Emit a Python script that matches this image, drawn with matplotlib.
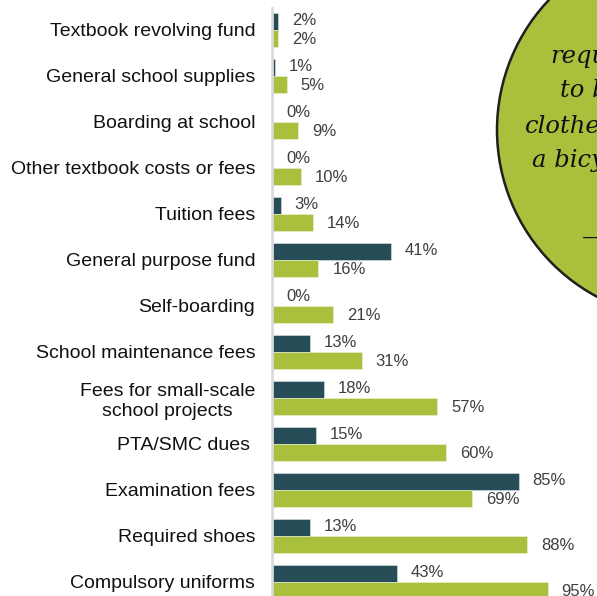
import matplotlib.pyplot as plt
from matplotlib.patches import Circle

# categories top -> bottom
categories = ['Textbook revolving fund', 'General school supplies', 'Boarding at school',
              'Other textbook costs or fees', 'Tuition fees', 'General purpose fund',
              'Self-boarding', 'School maintenance fees',
              'Fees for small-scale\nschool projects', 'PTA/SMC dues ', 'Examination fees',
              'Required shoes', 'Compulsory uniforms']
dark_vals = [2, 1, 0, 0, 3, 41, 0, 13, 18, 15, 85, 13, 43]
green_vals = [2, 5, 9, 10, 14, 16, 21, 31, 57, 60, 69, 88, 95]

circle_lines = ['required', 'to buy', 'clothes,', 'a bicycle']

dark = '#264c57'
green = '#a8c03b'
W, H = 597, 596

fig = plt.figure(figsize=(W / 100, H / 100), dpi=100)
fig.patch.set_facecolor('white')

# bar axes: left spine at x=272px, group i centred at y=30+46*i px
x0 = 272
ax = fig.add_axes([x0 / W, 0, (W - x0) / W, (H - 8) / H])
ax.set_xlim(0, (W - x0) / 2.9)
ax.set_ylim((H - 30) / 46, (8 - 30) / 46)

h = 0.37
ys = list(range(len(categories)))
ax.barh([y - h / 2 for y in ys], dark_vals, height=h, color=dark, edgecolor='#dfe6e8', linewidth=0.4)
ax.barh([y + h / 2 for y in ys], green_vals, height=h, color=green, edgecolor='#eef2dc', linewidth=0.4)

for y, v in zip(ys, dark_vals):
    ax.annotate('%d%%' % v, (v, y - h / 2), xytext=(10, 1), textcoords='offset points',
                ha='left', va='center', fontsize=12, color='#3f3f3f', family='Liberation Sans')
for y, v in zip(ys, green_vals):
    ax.annotate('%d%%' % v, (v, y + h / 2), xytext=(10, -1), textcoords='offset points',
                ha='left', va='center', fontsize=12, color='#3f3f3f', family='Liberation Sans',
                annotation_clip=False)

ax.set_yticks(ys)
ax.set_yticklabels(categories, fontsize=14, family='Liberation Sans', color='#111111')
for lbl in ax.get_yticklabels():
    lbl.set_multialignment('center')
ax.tick_params(axis='y', length=0, pad=12)
ax.set_xticks([])
for s in ['top', 'right', 'bottom']:
    ax.spines[s].set_visible(False)
ax.spines['left'].set_color('#d9d9d9')
ax.spines['left'].set_linewidth(2)
ax.patch.set_alpha(0)

# overlay for the callout circle, in pixel units
ov = fig.add_axes([0, 0, 1, 1])
ov.set_xlim(0, W)
ov.set_ylim(H, 0)
ov.axis('off')
ov.add_patch(Circle((686, 130), 189, facecolor=green, edgecolor='#1f1f1f', linewidth=1.8))
for (x, y), t in zip([(550, 57), (560, 91), (525, 126), (532, 160)], circle_lines):
    ov.text(x, y, t, ha='left', va='center', fontsize=17.5, style='italic',
            family='DejaVu Serif', color='#111111')
ov.text(582, 237, '\u2014', ha='left', va='center', fontsize=17.5, family='DejaVu Serif', color='#111111')

fig.savefig('out.png', dpi=100)
